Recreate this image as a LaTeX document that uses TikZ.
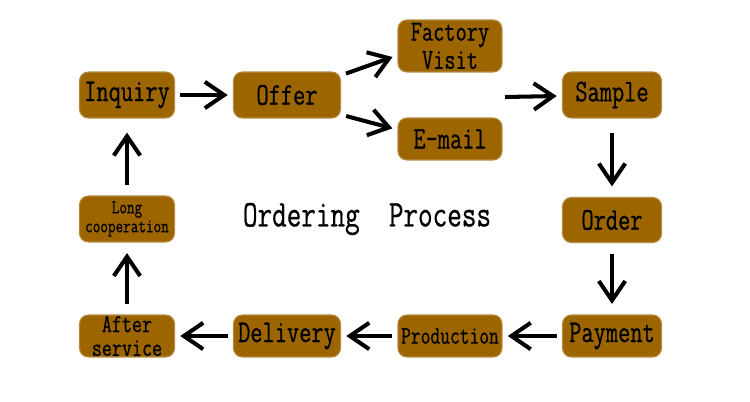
\documentclass[tikz,border=0pt]{standalone}
\usepackage{fontspec}
\setmainfont[FakeStretch=0.75,FakeBold=0.6]{Latin Modern Mono}
\usetikzlibrary{arrows.meta}

\definecolor{boxbrown}{RGB}{156,101,0}

\tikzset{
  stepbox/.style={draw=boxbrown!75!white, line width=0.6pt, fill=boxbrown,
    rounded corners=5pt, inner sep=0pt, align=center,
    minimum width=2.08cm, minimum height=0.92cm},
  flow/.style={line width=2.3pt, shorten <=3pt, shorten >=3pt,
    -{Straight Barb[length=11pt,width=15pt]}},
  bigtext/.style={font=\fontsize{18}{18}\selectfont}
}

\begin{document}
\begin{tikzpicture}[x=0.02cm, y=-0.02cm]
    \useasboundingbox (0,0) rectangle (750,402);
    % top row
    \node[stepbox, bigtext, minimum width=1.9cm] (inquiry) at (127,95) {Inquiry};
    \node[stepbox, bigtext, minimum width=2.14cm] (offer) at (287,95) {Offer};
    \node[stepbox, minimum height=1.04cm, font=\fontsize{16.5}{16}\selectfont] (factory) at (450,46) {Factory\\Visit};
    \node[stepbox, bigtext, minimum height=0.84cm] (email) at (450,139) {E-mail};
    \node[stepbox, bigtext, minimum width=1.98cm] (sample) at (612,95) {Sample};
    \coordinate (split) at (505,97);
    % right column
    \node[stepbox, bigtext, minimum width=1.98cm, minimum height=0.9cm] (order) at (612,220) {Order};
    \node[stepbox, bigtext, minimum width=1.98cm, minimum height=0.84cm] (payment) at (612,336) {Payment};
    % bottom row
    \node[stepbox, minimum height=0.84cm, font=\fontsize{14.4}{14.4}\selectfont] (production) at (450,336) {Production};
    \node[stepbox, bigtext, minimum width=2.14cm, minimum height=0.84cm] (delivery) at (287,336) {Delivery};
    \node[stepbox, minimum width=1.9cm, minimum height=0.84cm, font=\fontsize{14.8}{13.6}\selectfont] (after) at (127,336) {After\\service};
    % left column
    \node[stepbox, minimum width=1.9cm, minimum height=0.92cm, font=\fontsize{11.2}{10.8}\selectfont] (longcoop) at (127,219) {Long\\cooperation};
    \node[font=\fontsize{21.5}{21.5}\selectfont] (title) at (367,219) {Ordering\ \ Process};

    \draw[flow] (inquiry) -- (offer);
    \draw[flow] (offer.20) -- (factory.190);
    \draw[flow] (offer.-20) -- (email.170);
    \draw[flow, shorten <=0pt] (split) -- (sample);
    \draw[flow, shorten <=8pt, shorten >=6pt] (sample) -- (order);
    \draw[flow, shorten <=6pt, shorten >=6pt] (order) -- (payment);
    \draw[flow] (payment) -- (production);
    \draw[flow] (production) -- (delivery);
    \draw[flow] (delivery) -- (after);
    \draw[flow, shorten <=6pt, shorten >=6pt] (after) -- (longcoop);
    \draw[flow, shorten <=6pt, shorten >=8pt] (longcoop) -- (inquiry);
\end{tikzpicture}
\end{document}
